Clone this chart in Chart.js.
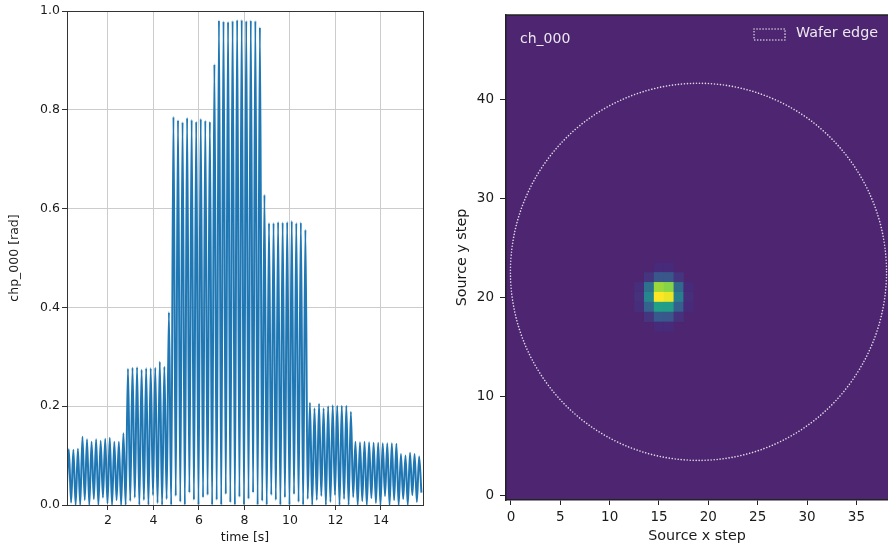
<!DOCTYPE html>
<html>
<head>
<meta charset="utf-8">
<script src="https://cdn.jsdelivr.net/npm/chart.js@4.4.1/dist/chart.umd.min.js"></script>
<style>
  html, body { margin: 0; padding: 0; background: #fff; }
  #wrap { position: relative; width: 888px; height: 548px; overflow: hidden; }
  #lineChart { position: absolute; left: 0; top: 0; }
  #mapChart { position: absolute; left: 440px; top: 0; }
</style>
</head>
<body>
<div id="wrap">
  <canvas id="lineChart" width="440" height="548"></canvas>
  <canvas id="mapChart" width="448" height="548"></canvas>
</div>
<script>
// ---- left panel: chp_000 phase vs time, one peak + one trough per cycle ----
const peakTime = [
  0.28, 0.48, 0.68, 0.88, 1.08, 1.28, 1.48, 1.68, 1.88, 2.08,
  2.28, 2.48, 2.68, 2.88, 3.08, 3.28, 3.48, 3.68, 3.88, 4.08,
  4.28, 4.48, 4.68, 4.88, 5.08, 5.28, 5.48, 5.68, 5.88, 6.08,
  6.28, 6.48, 6.68, 6.88, 7.08, 7.28, 7.48, 7.68, 7.88, 8.08,
  8.28, 8.48, 8.68, 8.88, 9.08, 9.28, 9.48, 9.68, 9.88, 10.08,
  10.28, 10.48, 10.68, 10.88, 11.08, 11.28, 11.48, 11.68, 11.88, 12.08,
  12.28, 12.48, 12.68, 12.88, 13.08, 13.28, 13.48, 13.68, 13.88, 14.08,
  14.28, 14.48, 14.68, 14.88, 15.08, 15.28, 15.48, 15.68
];
const peakValue = [
  0.113, 0.112, 0.114,
  0.138, 0.133, 0.128, 0.133, 0.130, 0.134, 0.136, 0.128, 0.128,
  0.145,
  0.276, 0.278, 0.279, 0.274, 0.277, 0.277, 0.278, 0.290, 0.280,
  0.390,
  0.786, 0.779, 0.775, 0.784, 0.780, 0.776, 0.782, 0.778, 0.776,
  0.892,
  0.981, 0.979, 0.978, 0.980, 0.982, 0.982, 0.980, 0.981, 0.980,
  0.967,
  0.628,
  0.571, 0.571, 0.573, 0.572, 0.573, 0.575, 0.571, 0.572, 0.557,
  0.207, 0.196, 0.205, 0.196, 0.200, 0.202, 0.201, 0.201, 0.201, 0.189,
  0.128, 0.127, 0.128, 0.127, 0.126, 0.126, 0.125, 0.125, 0.125, 0.124,
  0.103, 0.100, 0.106, 0.103, 0.098
];
const troughTime = [
  0.18, 0.38, 0.58, 0.78, 0.98, 1.18, 1.38, 1.58, 1.78, 1.98,
  2.18, 2.38, 2.58, 2.78, 2.98, 3.18, 3.38, 3.58, 3.78, 3.98,
  4.18, 4.38, 4.58, 4.78, 4.98, 5.18, 5.38, 5.58, 5.78, 5.98,
  6.18, 6.38, 6.58, 6.78, 6.98, 7.18, 7.38, 7.58, 7.78, 7.98,
  8.18, 8.38, 8.58, 8.78, 8.98, 9.18, 9.38, 9.58, 9.78, 9.98,
  10.18, 10.38, 10.58, 10.78, 10.98, 11.18, 11.38, 11.58, 11.78, 11.98,
  12.18, 12.38, 12.58, 12.78, 12.98, 13.18, 13.38, 13.58, 13.78, 13.98,
  14.18, 14.38, 14.58, 14.78, 14.98, 15.18, 15.38, 15.58, 15.78
];
const troughValue = [
  0.020, 0.005, 0.000, 0.000, 0.010, 0.000, 0.012, 0.000, 0.015, 0.003, 0.000, 0.010, 0.000,
  0.000, 0.008, 0.015, 0.000, 0.010, 0.000, 0.020, 0.004, 0.000, 0.012,
  0.000, 0.018, 0.006, 0.000, 0.025, 0.010, 0.000, 0.015, 0.020, 0.000,
  0.010, 0.000, 0.022, 0.005, 0.000, 0.016, 0.000, 0.012, 0.025, 0.000, 0.008,
  0.000, 0.020, 0.010, 0.000, 0.015, 0.000, 0.022, 0.006, 0.000, 0.012,
  0.000, 0.010, 0.018, 0.000, 0.006, 0.020, 0.000, 0.012, 0.000, 0.016,
  0.000, 0.008, 0.000, 0.014, 0.004, 0.000, 0.018, 0.000, 0.010, 0.000,
  0.012, 0.000, 0.020, 0.006, 0.025
];
const timeTicks = [2, 4, 6, 8, 10, 12, 14];
const phaseTicks = [0, 0.2, 0.4, 0.6, 0.8, 1.0];

// ---- right panel: response map over source steps ----
const stepTicksX = [0, 5, 10, 15, 20, 25, 30, 35];
const stepTicksY = [0, 10, 20, 30, 40];
const cellX = [15, 16,
               14, 15, 16, 17,
               13, 14, 15, 16, 17, 18,
               13, 14, 15, 16, 17, 18,
               13, 14, 15, 16, 17, 18,
               14, 15, 16, 17,
               15, 16];
const cellY = [23, 23,
               22, 22, 22, 22,
               21, 21, 21, 21, 21, 21,
               20, 20, 20, 20, 20, 20,
               19, 19, 19, 19, 19, 19,
               18, 18, 18, 18,
               17, 17];
const cellValue = [0.12, 0.12,
                   0.15, 0.27, 0.27, 0.15,
                   0.13, 0.37, 0.85, 0.82, 0.34, 0.12,
                   0.14, 0.46, 1.00, 0.97, 0.42, 0.13,
                   0.13, 0.32, 0.56, 0.55, 0.30, 0.12,
                   0.15, 0.28, 0.27, 0.14,
                   0.12, 0.12];
const waferCenter = [19.0, 22.55];
const waferRadius = 19.05;

Chart.defaults.font.family = '"DejaVu Sans", sans-serif';
Chart.defaults.color = '#1a1a1a';

const signal = [];
troughTime.forEach((t, i) => {
  signal.push({ x: t, y: troughValue[i] });
  if (i < peakTime.length) signal.push({ x: peakTime[i], y: peakValue[i] });
});

const leftFrame = {
  id: 'leftFrame',
  afterDatasetsDraw(chart) {
    const { ctx, chartArea: a } = chart;
    ctx.save();
    ctx.strokeStyle = '#333';
    ctx.lineWidth = 1;
    ctx.strokeRect(a.left + 0.5, a.top + 0.5, a.right - a.left, a.bottom - a.top);
    ctx.restore();
  }
};

new Chart(document.getElementById('lineChart'), {
  type: 'line',
  data: {
    datasets: [{
      data: signal,
      borderColor: '#1f77b4',
      borderWidth: 2,
      pointRadius: 0,
      cubicInterpolationMode: 'monotone',
      fill: false
    }]
  },
  options: {
    responsive: false,
    animation: false,
    events: [],
    layout: { padding: { top: 11, right: 17, bottom: 0, left: 0 } },
    plugins: { legend: { display: false }, tooltip: { enabled: false } },
    scales: {
      x: {
        type: 'linear',
        min: 0.2,
        max: 15.85,
        afterBuildTicks: axis => { axis.ticks = timeTicks.map(v => ({ value: v })); },
        afterFit: axis => { axis.height = 43; },
        grid: { color: '#cccccc', lineWidth: 1, tickColor: '#333', tickLength: 5 },
        border: { display: false },
        ticks: { autoSkip: false, maxRotation: 0, padding: 3, font: { size: 12.5 } },
        title: { display: true, text: 'time [s]', font: { size: 12.5 }, padding: { top: 0, bottom: 2.5 } }
      },
      y: {
        min: 0,
        max: 1,
        afterBuildTicks: axis => { axis.ticks = phaseTicks.map(v => ({ value: v })); },
        afterFit: axis => { axis.width = 67; },
        grid: { color: '#cccccc', lineWidth: 1, tickColor: '#333', tickLength: 5 },
        border: { display: false },
        ticks: { autoSkip: false, padding: 2, font: { size: 12.5 }, callback: v => Number(v).toFixed(1) },
        title: { display: true, text: 'chp_000 [rad]', font: { size: 12.5 }, padding: { top: 7.5, bottom: 0 } }
      }
    }
  },
  plugins: [leftFrame]
});

// viridis colour map
const viridisStops = [
  [68, 1, 84], [72, 36, 117], [65, 68, 135], [53, 95, 141], [42, 120, 142],
  [33, 145, 140], [34, 168, 132], [68, 191, 112], [122, 209, 81], [189, 223, 38], [253, 231, 37]
];
function viridis(v) {
  const t = Math.max(0, Math.min(1, v)) * (viridisStops.length - 1);
  const i = Math.min(Math.floor(t), viridisStops.length - 2);
  const f = t - i;
  const a = viridisStops[i], b = viridisStops[i + 1];
  const c = a.map((ch, k) => Math.round(ch + (b[k] - ch) * f));
  return `rgb(${c[0]},${c[1]},${c[2]})`;
}

const cells = cellX.map((x, i) => ({ x: x, y: cellY[i], v: cellValue[i] }));

function cellRadius(chart) {
  const s = chart.scales.y;
  if (!s) return 7;
  const side = Math.abs(s.getPixelForValue(1) - s.getPixelForValue(0));
  return side / Math.SQRT2 + 0.3;
}

const mapDecor = {
  id: 'mapDecor',
  beforeDraw(chart) {
    const { ctx, chartArea: a } = chart;
    ctx.save();
    ctx.fillStyle = 'rgb(77,37,112)';
    ctx.fillRect(a.left, a.top, a.right - a.left, a.bottom - a.top);
    ctx.restore();
  },
  afterDraw(chart) {
    const { ctx, chartArea: a, scales } = chart;
    const xs = scales.x, ys = scales.y;
    const dotted = 'rgba(236,232,242,0.92)';
    ctx.save();

    // top spine
    ctx.strokeStyle = '#222';
    ctx.lineWidth = 1.5;
    ctx.beginPath();
    ctx.moveTo(a.left, a.top);
    ctx.lineTo(a.right, a.top);
    ctx.stroke();

    // wafer edge
    const cx = xs.getPixelForValue(waferCenter[0]);
    const cy = ys.getPixelForValue(waferCenter[1]);
    const rx = Math.abs(xs.getPixelForValue(waferCenter[0] + waferRadius) - cx);
    const ry = Math.abs(ys.getPixelForValue(waferCenter[1] + waferRadius) - cy);
    ctx.strokeStyle = dotted;
    ctx.lineWidth = 1.6;
    ctx.lineCap = 'round';
    ctx.setLineDash([0.01, 3]);
    ctx.beginPath();
    ctx.ellipse(cx, cy, rx, ry, 0, 0, Math.PI * 2);
    ctx.stroke();

    // legend
    ctx.font = '14.3px "DejaVu Sans"';
    const label = 'Wafer edge';
    const tw = ctx.measureText(label).width;
    const textLeft = a.right - 10 - tw;
    ctx.strokeRect(textLeft - 42, a.top + 14, 31, 11);
    ctx.setLineDash([]);
    ctx.fillStyle = '#ece8f0';
    ctx.textBaseline = 'alphabetic';
    ctx.fillText(label, textLeft, a.top + 22);

    // channel tag
    ctx.font = '14px "DejaVu Sans"';
    ctx.fillText('ch_000', a.left + 14, a.top + 28);
    ctx.restore();
  }
};

new Chart(document.getElementById('mapChart'), {
  type: 'scatter',
  data: {
    datasets: [{
      data: cells,
      pointStyle: 'rect',
      pointRadius: ctx => cellRadius(ctx.chart),
      backgroundColor: ctx => viridis(ctx.raw ? ctx.raw.v : 0),
      borderWidth: 0
    }]
  },
  options: {
    responsive: false,
    animation: false,
    events: [],
    layout: { padding: { top: 15, right: 0, bottom: 0, left: 0 } },
    plugins: { legend: { display: false }, tooltip: { enabled: false } },
    scales: {
      x: {
        type: 'linear',
        min: -0.5,
        max: 38.2,
        afterBuildTicks: axis => { axis.ticks = stepTicksX.map(v => ({ value: v })); },
        afterFit: axis => { axis.height = 48; },
        grid: { drawOnChartArea: false, tickColor: '#222', tickLength: 5, tickWidth: 1 },
        border: { display: true, color: '#222', width: 1.5 },
        ticks: { autoSkip: false, maxRotation: 0, padding: 4, font: { size: 13.5 } },
        title: { display: true, text: 'Source x step', font: { size: 14.3 }, padding: { top: 0, bottom: 2.7 } }
      },
      y: {
        type: 'linear',
        min: -0.5,
        max: 48.5,
        afterBuildTicks: axis => { axis.ticks = stepTicksY.map(v => ({ value: v })); },
        afterFit: axis => { axis.width = 66; },
        grid: { drawOnChartArea: false, tickColor: '#222', tickLength: 6, tickWidth: 1 },
        border: { display: true, color: '#222', width: 1.5 },
        ticks: { autoSkip: false, padding: 6, font: { size: 13.5 } },
        title: { display: true, text: 'Source y step', font: { size: 14.3 }, padding: { top: 13.4, bottom: 0 } }
      }
    }
  },
  plugins: [mapDecor]
});
</script>
</body>
</html>
